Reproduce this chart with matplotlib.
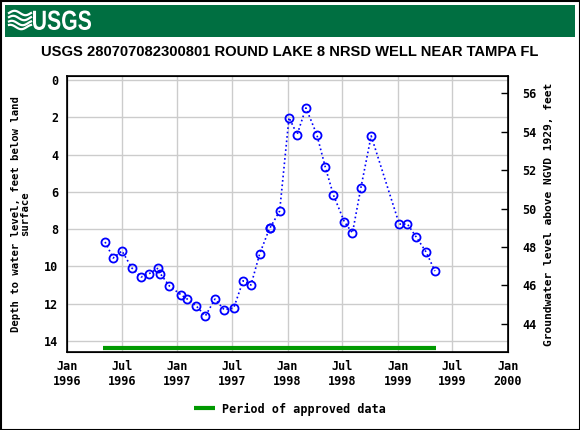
import numpy as np
import pandas as pd
import matplotlib
matplotlib.use('Agg')
import matplotlib.pyplot as plt
from matplotlib.textpath import TextPath
from matplotlib.font_manager import FontProperties
from matplotlib.patches import PathPatch, Rectangle
from matplotlib.transforms import Affine2D, IdentityTransform

# water level measurements (depth below land surface, feet)
dates = ['1996-05-07', '1996-06-03', '1996-07-02', '1996-08-04', '1996-09-03',
         '1996-09-30', '1996-10-30', '1996-11-06', '1996-12-06', '1997-01-14',
         '1997-02-03', '1997-03-05', '1997-04-04', '1997-05-06', '1997-06-05',
         '1997-07-07', '1997-08-07', '1997-09-02', '1997-10-01', '1997-11-03',
         '1997-11-04', '1997-12-06', '1998-01-06', '1998-02-02', '1998-03-03',
         '1998-04-08', '1998-05-06', '1998-06-02', '1998-07-08', '1998-08-04',
         '1998-09-01', '1998-10-05', '1999-01-06', '1999-02-02', '1999-03-03',
         '1999-04-05', '1999-05-04']
depth = [8.69, 9.55, 9.17, 10.09, 10.57,
         10.39, 10.09, 10.39, 11.05, 11.53,
         11.75, 12.12, 12.66, 11.75, 12.32,
         12.23, 10.77, 11.0, 9.32, 7.94,
         7.94, 7.03, 2.02, 2.93, 1.5,
         2.93, 4.67, 6.17, 7.6, 8.21,
         5.78, 3.0, 7.73, 7.73, 8.42,
         9.23, 10.25]

approved_start = '1996-05-01'
approved_end = '1999-05-08'

tick_dates = ['1996-01-01', '1996-07-01', '1997-01-01', '1997-07-01', '1998-01-01',
              '1998-07-01', '1999-01-01', '1999-07-01', '2000-01-01']
tick_labels = ['Jan\n1996', 'Jul\n1996', 'Jan\n1997', 'Jul\n1997', 'Jan\n1998',
               'Jul\n1998', 'Jan\n1999', 'Jul\n1999', 'Jan\n2000']

t = pd.to_datetime(dates)
ticks = pd.to_datetime(tick_dates)

mono = 'DejaVu Sans Mono'

fig = plt.figure(figsize=(5.8, 4.3), dpi=100)
ax = fig.add_axes([66.7 / 580, 1 - 352 / 430, (508 - 66.7) / 580, (352 - 76) / 430])

ax.plot(t, depth, color='blue', linestyle=':', linewidth=1.2, marker='o',
        markersize=5.8, markerfacecolor='none', markeredgecolor='blue',
        markeredgewidth=1.3, zorder=3)
ax.plot(pd.to_datetime([approved_start, approved_end]), [14.4, 14.4], color='#009900',
        linewidth=3, solid_capstyle='butt', zorder=2, label='Period of approved data')

ax.set_xlim(pd.Timestamp('1996-01-01'), pd.Timestamp('2000-01-01'))
ax.set_ylim(14.59, -0.21)
ax.set_xticks(ticks)
ax.set_xticklabels(tick_labels)
ax.set_yticks(np.arange(0, 15, 2))
ax.grid(True, color='#cccccc', linewidth=1)
ax.set_axisbelow(True)
ax.tick_params(length=0, pad=6)
for lab in ax.get_xticklabels() + ax.get_yticklabels():
    lab.set_fontfamily(mono)
    lab.set_fontweight('bold')
    lab.set_fontsize(8.5)
ax.set_ylabel('Depth to water level, feet below land\nsurface', fontfamily=mono,
              fontweight='bold', fontsize=7.6, linespacing=0.9, labelpad=10)
for s in ax.spines.values():
    s.set_linewidth(1.2)

ax2 = ax.twinx()
ax2.set_ylim(42.54, 56.9)
ax2.set_yticks(np.arange(44, 57, 2))
ax2.tick_params(direction='in', length=5, width=1, pad=10)
for lab in ax2.get_yticklabels():
    lab.set_fontfamily(mono)
    lab.set_fontweight('bold')
    lab.set_fontsize(8.5)
ax2.set_ylabel('Groundwater level above NGVD 1929, feet', fontfamily=mono,
               fontweight='bold', fontsize=8.1, labelpad=6)

fig.legend(*ax.get_legend_handles_labels(), loc='center', bbox_to_anchor=(0.5, 1 - 409 / 430),
           frameon=False, prop={'family': mono, 'weight': 'bold', 'size': 8.5},
           handlelength=1.8, handletextpad=0.6)

fig.text(0.5, 1 - 52 / 430, 'USGS 280707082300801 ROUND LAKE 8 NRSD WELL NEAR TAMPA FL',
         ha='center', va='center', fontfamily='Liberation Sans', fontweight='bold',
         fontsize=10.6)

# header band with logo
H = 430
fig.patches.append(Rectangle((5, H - 37), 570, 32, transform=IdentityTransform(),
                             facecolor='#006f41', edgecolor='none'))
tp = TextPath((0, 0), 'USGS', size=10, prop=FontProperties(family='Liberation Sans', weight='bold'))
ext = tp.get_extents()
sx = 58 / ext.width
sy = 19.5 / ext.height
tr = Affine2D().translate(-ext.x0, -ext.y0).scale(sx, sy).translate(33, H - 30)
fig.patches.append(PathPatch(tr.transform_path(tp), transform=IdentityTransform(),
                             facecolor='white', edgecolor='none'))
xs = np.linspace(9, 31, 40)
for k, y0 in enumerate([H - 13, H - 18, H - 23, H - 27]):
    fig.lines.append(plt.Line2D(xs, y0 + 2.2 * np.sin((xs - 9) / 22 * 2 * np.pi + k * 0.4),
                                transform=IdentityTransform(), color='white', linewidth=1.6))

fig.patches.append(Rectangle((0.5, 0.5), 579, 429, transform=IdentityTransform(),
                             facecolor='none', edgecolor='black', linewidth=1.5))

fig.savefig('out.png', dpi=100)
